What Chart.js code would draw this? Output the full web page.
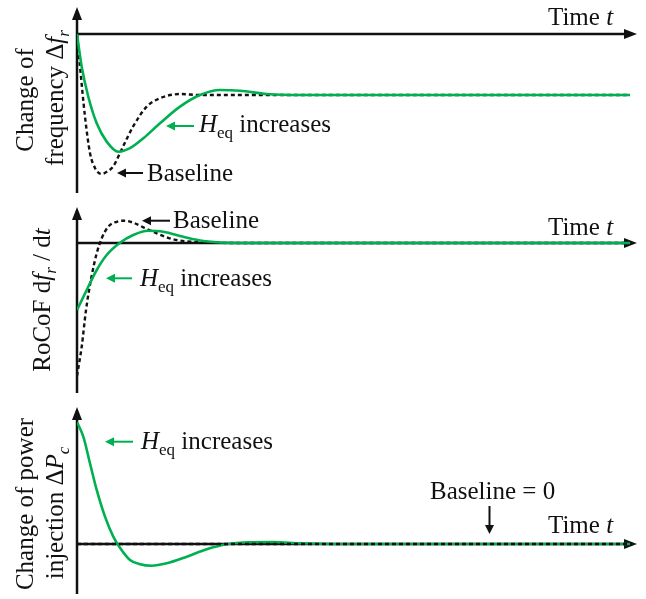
<!DOCTYPE html>
<html>
<head>
<meta charset="utf-8">
<script src="https://cdn.jsdelivr.net/npm/chart.js@4.4.0/dist/chart.umd.min.js"></script>
<style>
  body { margin: 0; background: #fff; }
  #wrap { position: relative; width: 646px; height: 599px; }
  canvas { position: absolute; left: 0; }
</style>
</head>
<body>
<div id="wrap">
  <canvas id="freq-chart" width="646" height="200" style="top:0"></canvas>
  <canvas id="rocof-chart" width="646" height="200" style="top:200px"></canvas>
  <canvas id="power-chart" width="646" height="199" style="top:400px"></canvas>
</div>
<script>
// time axis (arbitrary units) and values
const freqBaseT = [0, 0.054, 0.143, 0.232, 0.321, 0.441, 0.554, 0.643, 0.821, 1.0, 1.245, 1.48, 1.84, 2.2, 3.0, 5.0, 7.5, 9.875];
const freqBaseV = [0, -0.234, -0.591, -0.85, -0.957, -1.0, -0.979, -0.948, -0.805, -0.662, -0.519, -0.459, -0.429, -0.436, -0.436, -0.436, -0.436, -0.436];
const freqHeqT = [0, 0.084, 0.202, 0.352, 0.53, 0.738, 0.946, 1.184, 1.482, 1.839, 2.196, 2.554, 2.91, 3.39, 3.98, 5.0, 7.5, 9.875];
const freqHeqV = [0, -0.234, -0.448, -0.638, -0.769, -0.841, -0.816, -0.745, -0.638, -0.519, -0.436, -0.4, -0.405, -0.429, -0.436, -0.436, -0.436, -0.436];

const rocofBaseT = [0, 0.084, 0.161, 0.259, 0.352, 0.441, 0.559, 0.709, 0.839, 1.005, 1.184, 1.423, 1.72, 2.077, 2.495, 3.0, 5.0, 7.5, 9.875];
const rocofBaseV = [-1.0, -0.78, -0.504, -0.253, -0.077, 0.035, 0.123, 0.16, 0.168, 0.153, 0.118, 0.073, 0.028, 0.008, 0.002, 0, 0, 0, 0];
const rocofHeqT = [0, 0.173, 0.352, 0.53, 0.768, 1.005, 1.268, 1.541, 1.898, 2.255, 2.673, 3.2, 5.0, 7.5, 9.875];
const rocofHeqV = [-0.504, -0.353, -0.203, -0.09, 0.002, 0.06, 0.092, 0.085, 0.047, 0.015, 0.002, 0, 0, 0, 0];

const powerBaseT = [0, 9.875];
const powerBaseV = [0, 0];
const powerHeqT = [0, 0.113, 0.232, 0.352, 0.5, 0.648, 0.755, 0.946, 1.125, 1.334, 1.602, 1.959, 2.316, 2.673, 3.089, 3.505, 3.982, 4.7, 6.0, 7.5, 9.875];
const powerHeqV = [1.0, 0.88, 0.661, 0.443, 0.224, 0.06, -0.022, -0.131, -0.166, -0.178, -0.158, -0.104, -0.043, -0.002, 0.014, 0.016, 0.006, 0, 0, 0, 0];

const GREEN = '#00b050';
const INK = '#111';
const FONT = '"Liberation Serif", "Times New Roman", serif';

const pts = (ts, vs) => ts.map((t, i) => ({ x: t, y: vs[i] }));

// runs: [text, style] with style n / i (italic) / s (subscript) / si (italic subscript)
function runFont(style) {
  const sub = style.indexOf('s') >= 0;
  const it = style.indexOf('i') >= 0;
  return (it ? 'italic ' : '') + (sub ? 17 : 25) + 'px ' + FONT;
}
function runsWidth(ctx, runs) {
  let w = 0;
  runs.forEach(([txt, st]) => { ctx.font = runFont(st); w += ctx.measureText(txt).width; });
  return w;
}
function drawRuns(ctx, runs, x, y, color, center) {
  ctx.save();
  ctx.fillStyle = color;
  ctx.textBaseline = 'alphabetic';
  ctx.textAlign = 'left';
  let cx = center ? x - runsWidth(ctx, runs) / 2 : x;
  runs.forEach(([txt, st]) => {
    ctx.font = runFont(st);
    const dy = st.indexOf('s') >= 0 ? 6 : 0;
    ctx.fillText(txt, cx, y + dy);
    cx += ctx.measureText(txt).width;
  });
  ctx.restore();
}
function drawVertical(ctx, runs, x, y) {
  ctx.save();
  ctx.translate(x, y);
  ctx.rotate(-Math.PI / 2);
  drawRuns(ctx, runs, 0, 0, INK, true);
  ctx.restore();
}
function head(ctx, x, y, dir, len, half, color) {
  ctx.save();
  ctx.fillStyle = color;
  ctx.beginPath();
  if (dir === 'up') { ctx.moveTo(x, y); ctx.lineTo(x - half, y + len); ctx.lineTo(x + half, y + len); }
  if (dir === 'down') { ctx.moveTo(x, y); ctx.lineTo(x - half, y - len); ctx.lineTo(x + half, y - len); }
  if (dir === 'right') { ctx.moveTo(x, y); ctx.lineTo(x - len, y - half); ctx.lineTo(x - len, y + half); }
  if (dir === 'left') { ctx.moveTo(x, y); ctx.lineTo(x + len, y - half); ctx.lineTo(x + len, y + half); }
  ctx.closePath();
  ctx.fill();
  ctx.restore();
}
function leftArrow(ctx, x0, x1, y, color) {
  ctx.save();
  ctx.strokeStyle = color;
  ctx.lineWidth = 2;
  ctx.beginPath();
  ctx.moveTo(x0 + 6, y);
  ctx.lineTo(x1, y);
  ctx.stroke();
  ctx.restore();
  head(ctx, x0, y, 'left', 9, 4.5, color);
}

const Heq = [['H', 'i'], ['eq', 's'], [' increases', 'n']];
const timeT = [['Time ', 'n'], ['t', 'i']];

function axesPlugin(extra) {
  return {
    id: 'arrowAxes',
    beforeDatasetsDraw(chart) {
      const { ctx, chartArea, scales } = chart;
      const x0 = chartArea.left;
      const y0 = scales.y.getPixelForValue(0);
      ctx.save();
      ctx.strokeStyle = INK;
      ctx.lineWidth = 2.5;
      ctx.beginPath();
      ctx.moveTo(x0, chartArea.bottom);
      ctx.lineTo(x0, chartArea.top + 10);
      ctx.moveTo(x0, y0);
      ctx.lineTo(chartArea.right - 10, y0);
      ctx.stroke();
      ctx.restore();
      head(ctx, x0, chartArea.top, 'up', 13, 5, INK);
      head(ctx, chartArea.right, y0, 'right', 13, 5, INK);
    },
    afterDatasetsDraw(chart) {
      extra(chart.ctx);
    }
  };
}

function makeChart(id, datasets, yMin, yMax, pad, extra) {
  return new Chart(document.getElementById(id), {
    type: 'line',
    data: { datasets },
    options: {
      responsive: false,
      animation: false,
      devicePixelRatio: 1,
      layout: { padding: pad },
      plugins: { legend: { display: false }, tooltip: { enabled: false } },
      elements: { point: { radius: 0 } },
      scales: {
        x: { type: 'linear', min: 0, max: 10, display: false },
        y: { min: yMin, max: yMax, display: false }
      }
    },
    plugins: [axesPlugin(extra)]
  });
}

const green = (data) => ({ data, borderColor: GREEN, borderWidth: 2.6, cubicInterpolationMode: 'monotone', fill: false });
const dashed = (data) => ({ data, borderColor: INK, borderWidth: 2.4, borderDash: [4, 3], cubicInterpolationMode: 'monotone', fill: false });

makeChart('freq-chart',
  [green(pts(freqHeqT, freqHeqV)), dashed(pts(freqBaseT, freqBaseV))],
  -1.136, 0.193, { left: 77, right: 9, top: 7, bottom: 7 },
  (ctx) => {
    drawRuns(ctx, timeT, 548, 25, INK);
    leftArrow(ctx, 166, 194, 126, GREEN);
    drawRuns(ctx, Heq, 199, 132, INK);
    leftArrow(ctx, 117, 143, 173, INK);
    drawRuns(ctx, [['Baseline', 'n']], 147, 181, INK);
    drawVertical(ctx, [['Change of', 'n']], 33, 100);
    drawVertical(ctx, [['frequency ', 'n'], ['\u0394', 'n'], ['f', 'i'], ['r', 'si']], 63, 98);
  });

makeChart('rocof-chart',
  [green(pts(rocofHeqT, rocofHeqV)), dashed(pts(rocofBaseT, rocofBaseV))],
  -1.128, 0.271, { left: 77, right: 9, top: 7, bottom: 7 },
  (ctx) => {
    drawRuns(ctx, timeT, 548, 35, INK);
    leftArrow(ctx, 142, 170, 20.7, INK);
    drawRuns(ctx, [['Baseline', 'n']], 173, 28, INK);
    leftArrow(ctx, 106, 132, 78.3, GREEN);
    drawRuns(ctx, Heq, 140, 86, INK);
    drawVertical(ctx, [['RoCoF d', 'n'], ['f', 'i'], ['r', 'si'], [' / d', 'n'], ['t', 'i']], 50, 100);
  });

makeChart('power-chart',
  [dashed(pts(powerBaseT, powerBaseV)), green(pts(powerHeqT, powerHeqV))],
  -0.41, 1.123, { left: 77, right: 9, top: 7, bottom: 5 },
  (ctx) => {
    leftArrow(ctx, 105, 133, 41.7, GREEN);
    drawRuns(ctx, Heq, 141, 49.3, INK);
    drawRuns(ctx, [['Baseline = 0', 'n']], 430, 99.3, INK);
    ctx.save();
    ctx.strokeStyle = INK;
    ctx.lineWidth = 2;
    ctx.beginPath();
    ctx.moveTo(489.5, 106);
    ctx.lineTo(489.5, 126);
    ctx.stroke();
    ctx.restore();
    head(ctx, 489.5, 134, 'down', 9, 4.5, INK);
    drawRuns(ctx, timeT, 548, 132.7, INK);
    drawVertical(ctx, [['Change of power', 'n']], 33, 104);
    drawVertical(ctx, [['injection ', 'n'], ['\u0394', 'n'], ['P', 'i'], ['c', 'si']], 63, 113);
  });
</script>
</body>
</html>
